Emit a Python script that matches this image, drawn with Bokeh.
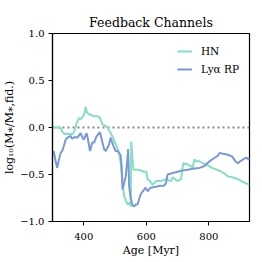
from bokeh.plotting import figure
from bokeh.models import Span, FixedTicker, Legend, LegendItem
from bokeh.embed import file_html
from bokeh.resources import INLINE

# Data
hn_age = [300, 325, 332, 340, 365, 372, 378, 384, 390, 398, 403, 406, 410, 417, 425, 433, 445, 452, 460, 468,
          476, 486, 495, 502, 513, 519, 524, 529, 535, 540, 546, 550, 552, 555, 559, 575, 593, 600, 604, 612,
          620, 631, 645, 663, 679, 684, 700, 711, 715, 718, 730, 743, 748, 754, 759, 770, 780, 796, 810, 834,
          850, 861, 875, 893, 910, 930]
hn_val = [0.0, 0.0, -0.05, -0.07, -0.07, -0.02, 0.05, 0.10, 0.09, 0.12, 0.16, 0.22, 0.16, 0.14, 0.13, 0.12, 0.12, 0.10, 0.03, 0.02,
          0.0, -0.06, -0.12, -0.18, -0.27, -0.40, -0.59, -0.73, -0.78, -0.82, -0.80, -0.84, -0.15, -0.30, -0.45, -0.45, -0.47, -0.47, -0.55, -0.57,
          -0.61, -0.57, -0.57, -0.55, -0.57, -0.53, -0.57, -0.55, -0.45, -0.38, -0.39, -0.41, -0.43, -0.34, -0.36, -0.36, -0.38, -0.40, -0.43, -0.46,
          -0.49, -0.52, -0.53, -0.55, -0.58, -0.61]

rp_age = [300, 304, 310, 315, 320, 326, 331, 336, 342, 347, 358, 363, 372, 379, 390, 395, 400, 409, 413, 420,
          427, 433, 440, 449, 452, 459, 465, 470, 481, 486, 495, 502, 508, 515, 518, 521, 524, 530, 534, 538,
          542, 545, 550, 556, 561, 566, 572, 582, 593, 598, 604, 614, 630, 646, 657, 663, 668, 679, 689, 700,
          711, 732, 750, 770, 786, 802, 815, 829, 834, 845, 861, 875, 885, 893, 900, 909, 920, 927, 930]
rp_val = [-0.30, -0.25, -0.36, -0.43, -0.35, -0.27, -0.25, -0.20, -0.13, -0.11, -0.09, -0.12, -0.10, -0.11, -0.06, -0.10, -0.13, -0.06, -0.12, -0.25,
          -0.16, -0.16, -0.10, -0.06, -0.05, -0.15, -0.23, -0.25, -0.18, -0.11, -0.20, -0.25, -0.25, -0.28, -0.30, -0.41, -0.66, -0.58, -0.52, -0.40,
          -0.23, -0.62, -0.75, -0.83, -0.84, -0.82, -0.82, -0.71, -0.66, -0.64, -0.68, -0.64, -0.63, -0.62, -0.62, -0.59, -0.50, -0.49, -0.48, -0.47,
          -0.46, -0.45, -0.44, -0.43, -0.41, -0.36, -0.33, -0.30, -0.27, -0.28, -0.29, -0.31, -0.36, -0.38, -0.36, -0.34, -0.32, -0.34, -0.33]

x_ticks = [400, 600, 800]
y_ticks = [-1.0, -0.5, 0.0, 0.5, 1.0]
y_tick_labels = ["\u22121.0", "\u22120.5", "0.0", "0.5", "1.0"]

FONT = "DejaVu Serif"
HN_COLOR = "#84dfc4"
RP_COLOR = "#7a98d9"

p = figure(frame_width=197, frame_height=188, x_range=(300, 930), y_range=(-1, 1),
           output_backend="svg", toolbar_location=None,
           min_border_left=50, min_border_right=5, min_border_top=33, min_border_bottom=30)

p.title.text = "Feedback Channels"
p.title.align = "center"
p.title.text_font = FONT
p.title.text_font_size = "12.5px"
p.title.text_font_style = "normal"
p.title.text_color = "black"
p.title.standoff = 8

zero = Span(location=0, dimension="width", line_color="#888888", line_dash="2 3",
            line_width=2, level="underlay")
p.add_layout(zero)

r_hn = p.line(hn_age, hn_val, line_color=HN_COLOR, line_width=2)
r_rp = p.line(rp_age, rp_val, line_color=RP_COLOR, line_width=2)

legend = Legend(items=[LegendItem(label="HN", renderers=[r_hn]),
                       LegendItem(label="Ly\u03b1 RP", renderers=[r_rp])],
                location="top_right")
legend.label_text_font = FONT
legend.label_text_font_size = "10.5px"
legend.label_text_color = "black"
legend.glyph_width = 15
legend.glyph_height = 16
legend.label_height = 16
legend.label_standoff = 9
legend.spacing = 2
legend.padding = 4
legend.margin = 6
legend.border_line_alpha = 0
legend.background_fill_alpha = 0
p.add_layout(legend)

p.xgrid.visible = False
p.ygrid.visible = False
p.outline_line_color = "black"
p.outline_line_width = 1.2
p.outline_line_alpha = 1

p.xaxis.ticker = FixedTicker(ticks=x_ticks)
p.yaxis.ticker = FixedTicker(ticks=y_ticks)
p.yaxis.major_label_overrides = {t: s for t, s in zip(y_ticks, y_tick_labels)}

for ax in (p.xaxis[0], p.yaxis[0]):
    ax.minor_tick_line_color = None
    ax.major_tick_in = 0
    ax.major_tick_out = 4
    ax.major_tick_line_color = "black"
    ax.axis_line_color = "black"
    ax.axis_line_width = 1.2
    ax.major_label_text_font = FONT
    ax.major_label_text_font_size = "10px"
    ax.major_label_text_color = "black"
    ax.axis_label_text_font = FONT
    ax.axis_label_text_font_size = "11px"
    ax.axis_label_text_font_style = "normal"
    ax.axis_label_text_color = "black"
    ax.axis_label_standoff = 1

p.xaxis.major_label_standoff = 7
p.yaxis.major_label_standoff = 4

p.xaxis.axis_label = "Age [Myr]"
p.yaxis.axis_label = "log\u2081\u2080(M\u204e/M\u204e,fid.)"

open("out.html", "w").write(file_html(p, INLINE))
